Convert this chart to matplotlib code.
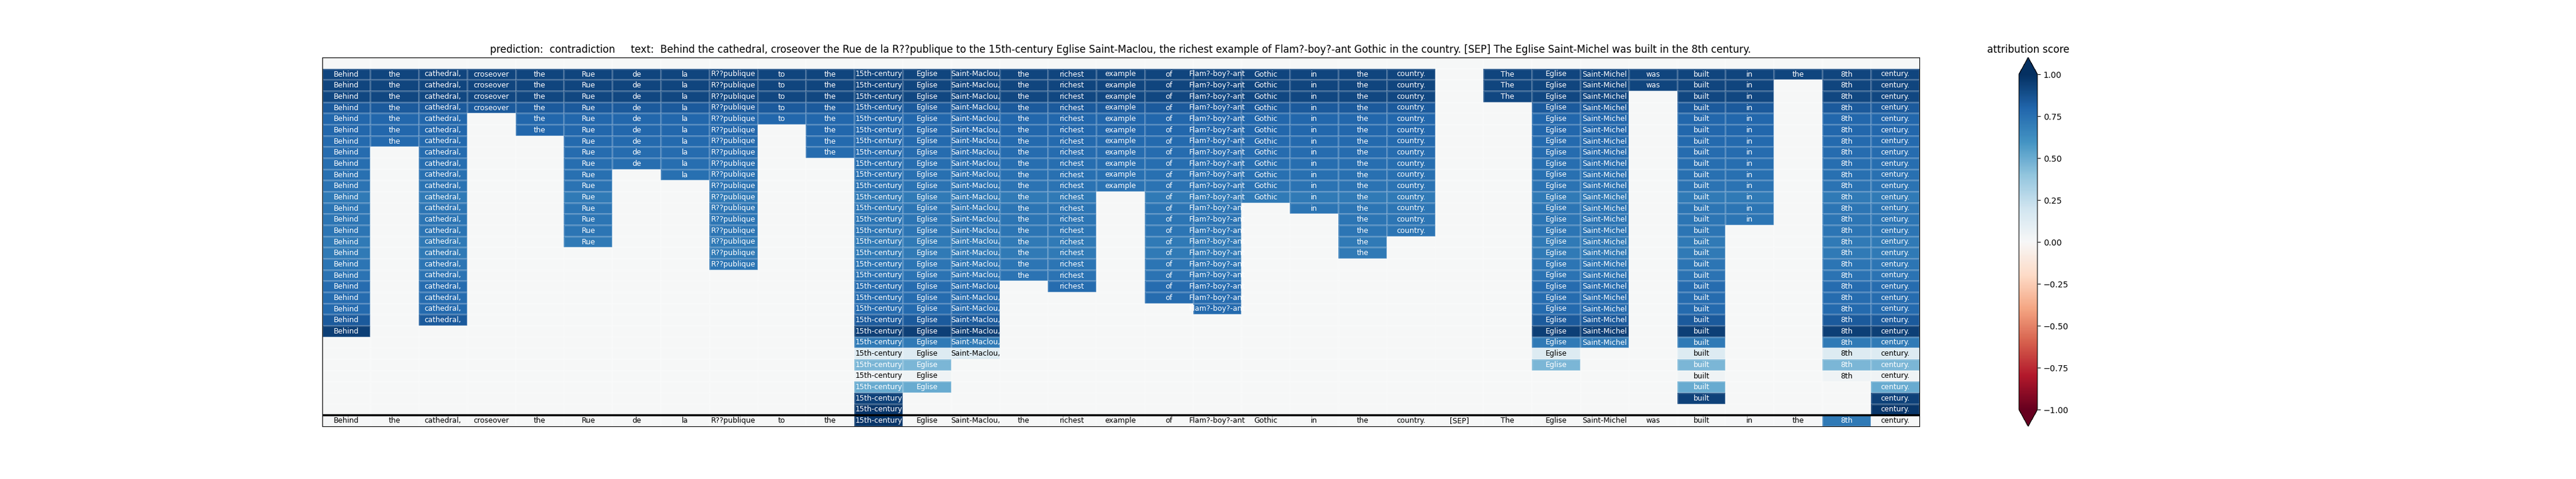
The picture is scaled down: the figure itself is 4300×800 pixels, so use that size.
import numpy as np
import matplotlib
matplotlib.use("Agg")
import matplotlib.pyplot as plt

# ---------------- data ----------------
tokens = ["Behind", "the", "cathedral,", "croseover", "the", "Rue", "de", "la",
          "R??publique", "to", "the", "15th-century", "Eglise", "Saint-Maclou,",
          "the", "richest", "example", "of", "Flam?-boy?-ant", "Gothic", "in",
          "the", "country.", "[SEP]", "The", "Eglise", "Saint-Michel", "was",
          "built", "in", "the", "8th", "century."]

# last hierarchy level (row) in which each token is still kept (0 = never)
last_row = [24, 7, 23, 4, 6, 16, 9, 10, 18, 5, 8, 31, 29, 26, 19, 20, 11, 21,
            22, 12, 13, 17, 15, 0, 3, 27, 25, 2, 30, 14, 1, 28, 31]

# attribution score of the phrase kept at each hierarchy level (row 0 is empty)
row_scores = [0.0, 0.92, 0.92, 0.91, 0.84, 0.79, 0.79, 0.78, 0.77, 0.76, 0.75,
              0.74, 0.71, 0.73, 0.73, 0.73, 0.71, 0.71, 0.73, 0.74, 0.77, 0.77,
              0.78, 0.84, 0.94, 0.71, 0.14, 0.46, 0.04, 0.50, 0.93, 0.97]

# word-level attribution scores (bottom row)
token_scores = [0.01, 0.0, 0.0, 0.0, 0.0, 0.0, 0.0, 0.0, 0.0, 0.0, 0.0, 0.97,
                0.0, 0.0, 0.0, 0.0, 0.0, 0.0, 0.0, 0.0, 0.0, 0.0, 0.0, 0.0,
                0.0, 0.0, 0.0, 0.0, 0.0, 0.01, 0.01, 0.71, 0.0]

prediction = "contradiction"

# ---------------- build matrix ----------------
n_tok = len(tokens)
n_lev = len(row_scores)
n_rows = n_lev + 1
M = np.zeros((n_rows, n_tok))
show = np.zeros((n_rows, n_tok), dtype=bool)
for r in range(1, n_lev):
    for j in range(n_tok):
        if r <= last_row[j]:
            M[r, j] = row_scores[r]
            show[r, j] = True
M[n_lev, :] = token_scores
show[n_lev, :] = True

# ---------------- plot ----------------
fig, ax = plt.subplots(figsize=(43, 8), dpi=100)
mesh = ax.pcolormesh(np.arange(n_tok + 1), np.arange(n_rows + 1), M,
                     cmap="RdBu", vmin=-1, vmax=1,
                     edgecolors=(1, 1, 1, 0.18), linewidth=0.8)
ax.set_xlim(0, n_tok)
ax.set_ylim(n_rows, 0)
ax.set_xticks([])
ax.set_yticks([])

for r in range(n_rows):
    for j in range(n_tok):
        if show[r, j]:
            v = M[r, j]
            ax.text(j + 0.5, r + 0.5, tokens[j], ha="center", va="center",
                    fontsize=8.7, color="white" if abs(v) > 0.3 else "black")

ax.axhline(n_lev, color="black", linewidth=2.5)

title = ("prediction:  " + prediction + "     text:  " + " ".join(tokens))
ax.set_title(title, fontsize=12)

cbar = fig.colorbar(mesh, ax=ax, extend="both")
cbar.set_ticks([-1.0, -0.75, -0.5, -0.25, 0.0, 0.25, 0.5, 0.75, 1.0])
cbar.ax.set_yticklabels(["-1.00", "\u22120.75", "\u22120.50", "\u22120.25", "0.00",
                         "0.25", "0.50", "0.75", "1.00"])
cbar.ax.set_yticklabels(["\u22121.00", "\u22120.75", "\u22120.50", "\u22120.25",
                         "0.00", "0.25", "0.50", "0.75", "1.00"])
cbar.ax.set_title("attribution score", fontsize=12)

fig.savefig("out.png", dpi=100)
